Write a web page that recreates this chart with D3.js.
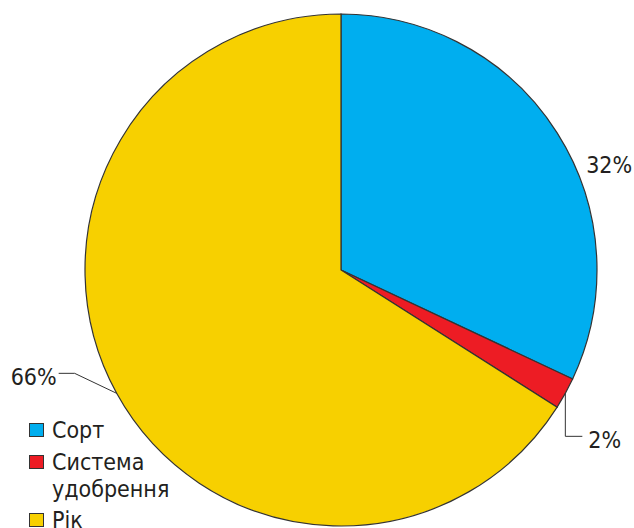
<!DOCTYPE html>
<html>
<head>
<meta charset="utf-8">
<script src="https://cdn.jsdelivr.net/npm/d3@7"></script>
<style>
  body { margin: 0; background: #fff; }
  text { font-family: "DejaVu Sans Condensed", "DejaVu Sans", sans-serif; fill: #231f20; }
</style>
</head>
<body>
<div id="chart"></div>
<script>
var categories = ["Сорт", "Система удобрення", "Рік"];
var values = [32, 2, 66];
var labels = ["32%", "2%", "66%"];
var colors = ["#00aeef", "#ed1c24", "#f7d000"];

var width = 634, height = 528;
var cx = 341, cy = 270, radius = 256;

var svg = d3.select("#chart").append("svg").attr("width", width).attr("height", height);
var g = svg.append("g").attr("transform", "translate(" + cx + "," + cy + ")");

var pie = d3.pie().sort(null).value(function(d) { return d; });
var arcs = pie(values);
var arc = d3.arc().innerRadius(0).outerRadius(radius);

g.selectAll("path").data(arcs).enter().append("path")
  .attr("d", arc)
  .attr("fill", function(d, i) { return colors[i]; })
  .attr("stroke", "#333")
  .attr("stroke-width", 1.2);

// point on the rim at the slice's middle angle
function rim(d, r) {
  var a = (d.startAngle + d.endAngle) / 2;
  return [Math.sin(a) * r, -Math.cos(a) * r];
}

// 32% - plain label beside the slice
var p0 = rim(arcs[0], radius);
g.append("text").attr("x", p0[0] + 29).attr("y", p0[1] + 40).attr("font-size", 23).text(labels[0]);

// 2% - leader line down then right
var p1 = rim(arcs[1], radius);
g.append("polyline")
  .attr("points", [p1, [p1[0], p1[1] + 43], [p1[0] + 17, p1[1] + 43]].map(function(p) { return p.join(","); }).join(" "))
  .attr("fill", "none").attr("stroke", "#333").attr("stroke-width", 1);
g.append("text").attr("x", p1[0] + 23).attr("y", p1[1] + 55).attr("font-size", 23).text(labels[1]);

// 66% - leader line to the left
var p2 = rim(arcs[2], radius);
g.append("polyline")
  .attr("points", [p2, [p2[0] - 42, p2[1] - 20], [p2[0] - 58, p2[1] - 20]].map(function(p) { return p.join(","); }).join(" "))
  .attr("fill", "none").attr("stroke", "#333").attr("stroke-width", 1);
g.append("text").attr("x", p2[0] - 60).attr("y", p2[1] - 8).attr("font-size", 23).attr("text-anchor", "end").text(labels[2]);

// legend
var legendRows = [
  { lines: ["Сорт"], y: 423 },
  { lines: ["Система", "удобрення"], y: 455 },
  { lines: ["Рік"], y: 513 }
];
var legend = svg.append("g");
legendRows.forEach(function(row, i) {
  legend.append("rect")
    .attr("x", 29.5).attr("y", row.y + 0.5).attr("width", 14).attr("height", 13)
    .attr("fill", colors[i]).attr("stroke", "#333").attr("stroke-width", 1);
  row.lines.forEach(function(line, j) {
    legend.append("text").attr("x", 52).attr("y", row.y + 15 + j * 27)
      .attr("font-size", 23).text(line);
  });
});
</script>
</body>
</html>
